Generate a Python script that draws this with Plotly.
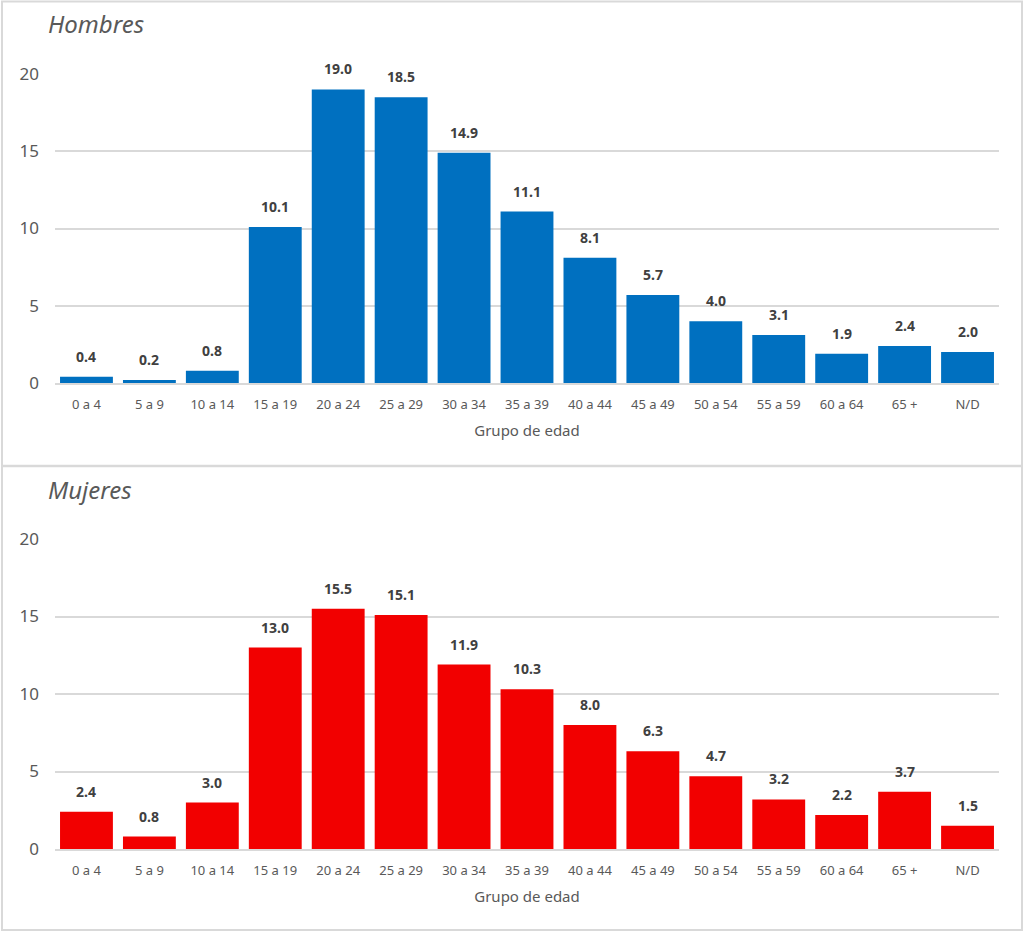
import plotly.graph_objects as go
from plotly.subplots import make_subplots

categories = ["0 a 4", "5 a 9", "10 a 14", "15 a 19", "20 a 24", "25 a 29", "30 a 34",
              "35 a 39", "40 a 44", "45 a 49", "50 a 54", "55 a 59", "60 a 64", "65 +", "N/D"]
hombres = [0.4, 0.2, 0.8, 10.1, 19.0, 18.5, 14.9, 11.1, 8.1, 5.7, 4.0, 3.1, 1.9, 2.4, 2.0]
mujeres = [2.4, 0.8, 3.0, 13.0, 15.5, 15.1, 11.9, 10.3, 8.0, 6.3, 4.7, 3.2, 2.2, 3.7, 1.5]
y_ticks = [0, 5, 10, 15, 20]
x_title = "Grupo de edad"
titles = ["Hombres", "Mujeres"]

W, H = 1024, 932
FONT = "Noto Sans"
GRAY = "#595959"

fig = make_subplots(rows=2, cols=1)

def py(px):
    return 1 - px / H

series = [(hombres, "#0070c0"), (mujeres, "#f20000")]
for r, (vals, col) in enumerate(series, start=1):
    fig.add_trace(go.Bar(x=categories, y=vals, marker_color=col,
                         marker_line=dict(width=0), showlegend=False), row=r, col=1)
    xref = "x" if r == 1 else "x2"
    yref = "y" if r == 1 else "y2"
    for c, v in zip(categories, vals):
        fig.add_annotation(x=c, y=v, xref=xref, yref=yref, text=f"{v:.1f}",
                           showarrow=False, yanchor="bottom", yshift=9,
                           font=dict(family=FONT, size=14, color="#404040", weight="bold"))

xdom = [55 / W, 999 / W]
domains = [[py(383), py(74)], [py(849), py(539)]]
for i, (ax, yax) in enumerate([("xaxis", "yaxis"), ("xaxis2", "yaxis2")]):
    fig.layout[ax].update(domain=xdom, showgrid=False, showline=True, linecolor="#d9d9d9",
                          linewidth=1.5, ticks="", automargin=False,
                          tickfont=dict(family=FONT, size=13, color=GRAY),
                          ticklabelstandoff=9,
                          title=dict(text=x_title, font=dict(family=FONT, size=15, color=GRAY),
                                     standoff=13))
    fig.layout[yax].update(domain=domains[i], range=[0, 20], tickvals=y_ticks,
                           showgrid=True, gridcolor="#d9d9d9", gridwidth=1.5,
                           zeroline=False, showline=False, ticks="", automargin=False,
                           tickfont=dict(family=FONT, size=17, color=GRAY),
                           ticklabelstandoff=15)

for t, ypx in zip(titles, [24, 490]):
    fig.add_annotation(text=t, xref="paper", yref="paper", x=46 / W, y=py(ypx),
                       xanchor="left", yanchor="middle", showarrow=False,
                       font=dict(family=FONT, size=24, color=GRAY, style="italic"))

fig.add_shape(type="rect", xref="paper", yref="paper", x0=2 / W, x1=1022 / W,
              y0=py(930), y1=py(1.5), line=dict(color="#d9d9d9", width=2))
fig.add_shape(type="line", xref="paper", yref="paper", x0=2 / W, x1=1022 / W,
              y0=py(466), y1=py(466), line=dict(color="#d9d9d9", width=2.5))

fig.update_layout(width=W, height=H, margin=dict(l=0, r=0, t=0, b=0, autoexpand=False),
                  plot_bgcolor="white", paper_bgcolor="white", bargap=0.16,
                  font=dict(family=FONT))

post = ("document.body.style.margin='0';document.body.style.overflow='hidden';"
        "var g=document.getElementById('{plot_id}');"
        "g.parentElement.style.fontSize='0';g.parentElement.style.lineHeight='0';")
fig.write_html("out.html", post_script=post, config={"displayModeBar": False})
